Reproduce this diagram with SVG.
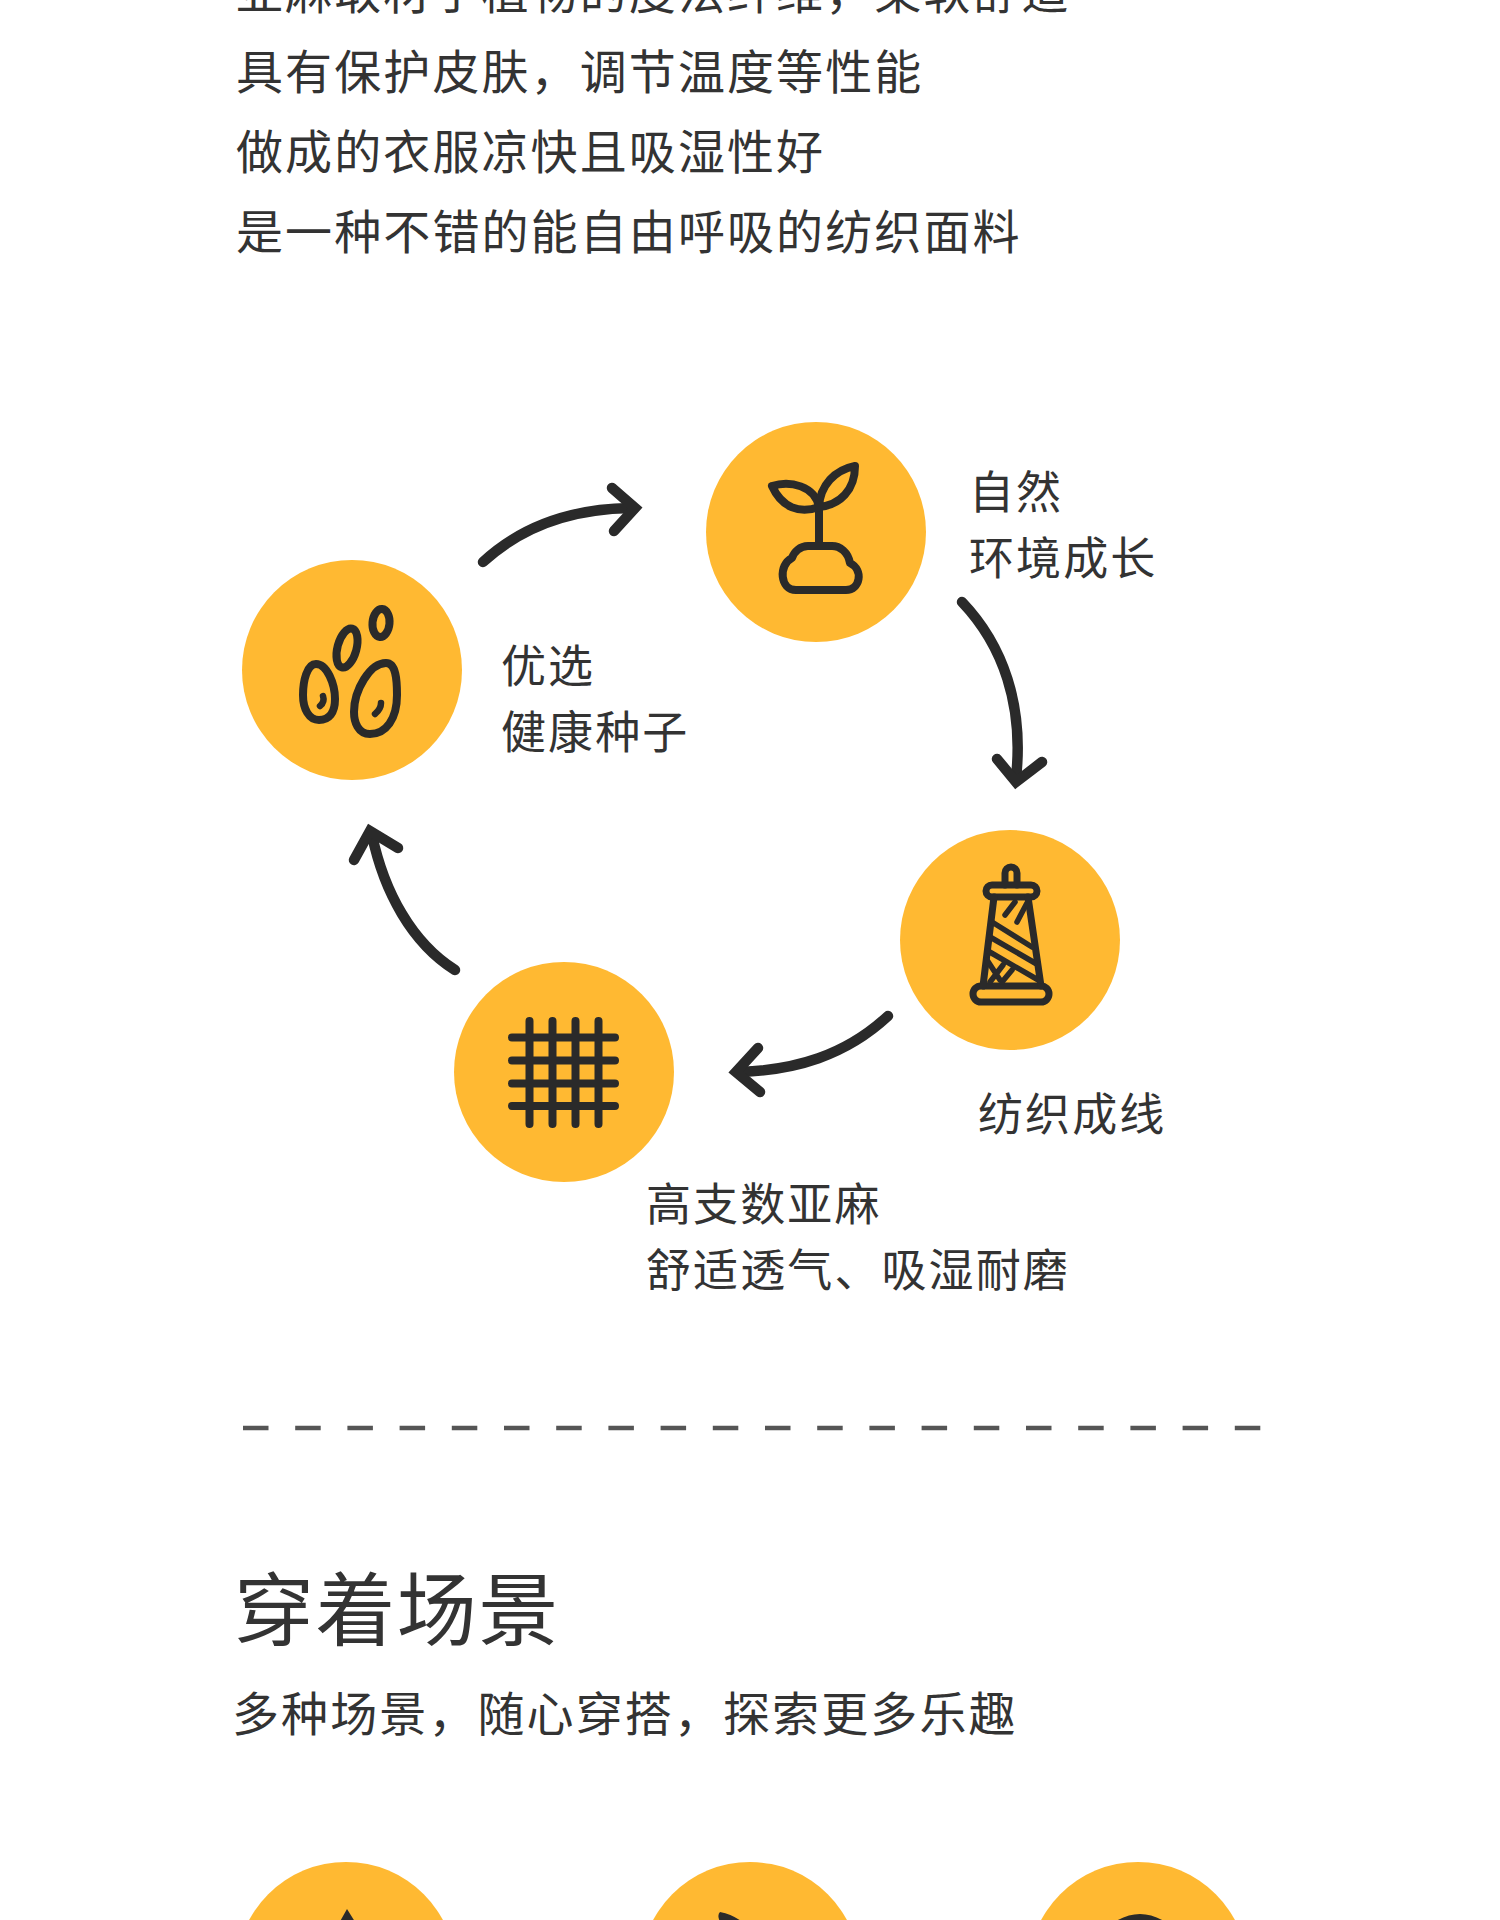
<svg xmlns="http://www.w3.org/2000/svg" width="1500" height="1920" viewBox="0 0 1500 1920">
<style>
text{font-family:"Noto Sans CJK SC","Noto Sans",sans-serif;fill:#333}
.body{font-size:47px;letter-spacing:2.1px}
.label{font-size:45px;letter-spacing:2.1px}
.head{font-size:80px;letter-spacing:1.4px}
.sub{font-size:47px;letter-spacing:2.1px}
.disc{fill:#ffb932}
.ic{fill:none;stroke:#2a2a2a;stroke-width:8;stroke-linecap:round;stroke-linejoin:round}
.arrow{fill:none;stroke:#2a2a2a;stroke-width:10.5;stroke-linecap:round;stroke-linejoin:miter}
</style>
<rect width="1500" height="1920" fill="#fff"/>
<g id="intro">
<text class="body" x="236" y="9">亚麻取材于植物的度法纤维，柔软舒适</text>
<text class="body" x="236" y="89">具有保护皮肤，调节温度等性能</text>
<text class="body" x="236" y="169">做成的衣服凉快且吸湿性好</text>
<text class="body" x="236" y="249">是一种不错的能自由呼吸的纺织面料</text>
</g>
<g id="connectors">
<g class="arrow">
<path d="M483 562C522 526 570 509 630 508"/><path d="M612 488L635 508L614 531"/>
<path d="M962 602C1003 645 1024 705 1016 778"/><path d="M997 759L1016 782L1042 762"/>
<path d="M888 1016C845 1056 795 1070 740 1072"/><path d="M758 1048L736 1072L760 1092"/>
<path d="M455 970C412 943 384 892 372 835"/><path d="M354 860L370 831L398 848"/>
</g>
</g>
<g id="node-seeds">
<circle class="disc" cx="352" cy="670" r="110"/>
<g class="ic">
<ellipse cx="381" cy="623" rx="8.5" ry="14" transform="rotate(5 381 623)"/>
<ellipse cx="347" cy="648" rx="9.5" ry="20" transform="rotate(15 347 648)"/>
<path d="M316 664C327 664 335 684 335 699C335 713 329 720 319 720C309 720 303 709 303 695C303 681 307 664 316 664Z"/>
<path d="M386 663C396 663 397 680 397 695C397 719 386 734 370 734C358 734 354 722 354 712C354 690 370 663 386 663Z"/>
<path d="M323 696Q325 702 320 706M381 703Q381 709 375 714" style="stroke-width:6.5"/>
</g>
</g>
<g id="node-plant">
<circle class="disc" cx="816" cy="532" r="110"/>
<g class="ic">
<path d="M819 507V543"/>
<path d="M772 486C790 480 815 486 819 507C800 514 782 508 772 486Z"/>
<path d="M855 466C835 470 820 485 819 507C840 505 855 490 855 466Z"/>
<path d="M796 590H846C860 590 864 570 850 563C848 552 840 546 832 546H808C800 546 794 552 792 558C778 565 780 590 796 590Z"/>
</g>
</g>
<g id="node-spool">
<circle class="disc" cx="1010" cy="940" r="110"/>
<g class="ic" style="stroke-width:7">
<path d="M1005 885V873a6 6 0 0 1 12 0V885"/>
<rect x="986" y="885" width="51" height="12" rx="6"/>
<rect x="973" y="986" width="76" height="16" rx="8"/>
<path d="M994 897L983 986M1028 897L1041 986"/>
<path d="M992 922L1032 947M990 937L1035 963M988 951L1040 981M1005 915L1015 902M1017 922L1027 903M990 982L1003 965M1002 982L1012 970M987 960L1000 980" style="stroke-width:5.5"/>
</g>
</g>
<g id="node-grid">
<circle class="disc" cx="564" cy="1072" r="110"/>
<g class="ic" style="stroke-width:8">
<path d="M529.5 1021V1124M552.5 1021V1124M575.5 1021V1124M598.5 1021V1124"/>
<path d="M512 1037.5H615M512 1060.5H615M512 1083.5H615M512 1106H615"/>
</g>
</g>
<g id="labels">
<text class="label" x="501" y="683">优选</text>
<text class="label" x="501" y="749">健康种子</text>
<text class="label" x="969" y="509">自然</text>
<text class="label" x="969" y="575">环境成长</text>
<text class="label" x="978" y="1131">纺织成线</text>
<text class="label" x="646" y="1221">高支数亚麻</text>
<text class="label" x="646" y="1287">舒适透气、吸湿耐磨</text>
</g>
<path id="divider" d="M243 1428H1263" fill="none" stroke="#555" stroke-width="4.5" stroke-dasharray="25.5 26.7"/>
<g id="scenes-title">
<text class="head" x="234" y="1639">穿着场景</text>
<text class="sub" x="232" y="1731">多种场景，随心穿搭，探索更多乐趣</text>
</g>
<g id="node-scene-1"><circle class="disc" cx="346" cy="1972" r="110"/><path fill="#2a2a2a" d="M347 1909L338 1925H357Z"/></g>
<g id="node-scene-2"><circle class="disc" cx="750" cy="1972" r="110"/><path fill="#2a2a2a" d="M720 1912Q716 1916 722 1925H746Q735 1915 720 1912Z"/></g>
<g id="node-scene-3"><circle class="disc" cx="1138" cy="1972" r="110"/><path fill="#2a2a2a" d="M1110 1925Q1125 1914 1140 1914Q1155 1914 1170 1925Z"/></g>
</svg>
